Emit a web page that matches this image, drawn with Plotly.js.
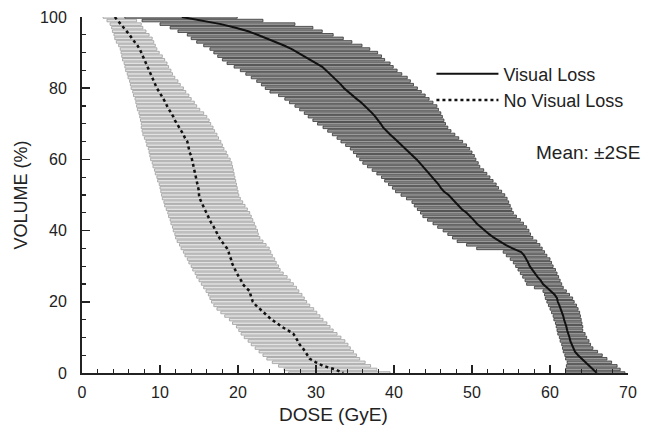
<!DOCTYPE html>
<html>
<head>
<meta charset="utf-8">
<script src="https://cdn.plot.ly/plotly-3.0.1.min.js"></script>
<style>html,body{margin:0;padding:0;background:#fff;}#chart{width:648px;height:435px;}</style>
</head>
<body>
<div id="chart"></div>
<script>
// Volume levels (%) from 100 down to 0
const volume = [];
for (let v = 100; v >= 0; v--) volume.push(v);

// Visual Loss: mean dose and mean ± 2SE (GyE)
const vlMean = [12.8,15.5,17.8,19.7,21.3,22.5,23.7,24.8,25.9,26.9,27.7,28.5,29.3,30.0,30.8,31.3,31.8,32.3,32.8,33.2,33.6,34.1,34.7,35.2,35.8,36.3,36.8,37.2,37.6,38.0,38.3,38.6,39.0,39.5,40.0,40.5,41.0,41.5,42.0,42.4,42.9,43.3,43.7,44.2,44.6,44.9,45.3,45.7,46.0,46.4,47.0,47.4,47.8,48.3,48.7,49.3,49.8,50.2,50.6,51.1,51.6,52.2,52.8,53.5,54.3,55.2,56.3,56.7,57.0,57.2,57.4,57.7,58.1,58.4,58.8,59.1,59.6,60.1,60.6,60.9,61.0,61.2,61.4,61.5,61.7,61.8,62.0,62.1,62.2,62.4,62.5,62.6,62.8,62.9,63.2,63.6,64.1,64.6,65.1,65.5,66.0];
const vlLow = [5.5,7.7,10.0,11.3,12.3,13.5,14.0,14.7,15.6,16.4,16.9,17.4,18.0,18.6,19.5,20.3,21.0,21.7,22.4,23.0,23.5,24.1,25.2,26.0,26.6,27.3,27.9,28.5,29.0,29.6,30.2,30.9,31.5,32.1,32.7,33.2,33.8,34.4,34.8,35.2,35.6,36.0,36.6,37.2,37.8,38.4,38.8,39.3,39.8,40.2,40.9,41.6,42.3,42.6,43.0,43.4,43.7,44.3,45.0,45.6,46.3,46.9,47.5,48.1,49.3,50.6,54.0,54.4,54.9,55.3,55.6,55.9,56.2,56.5,56.8,57.0,58.0,59.1,59.3,59.4,59.6,59.8,60.0,60.2,60.4,60.5,60.7,60.8,60.9,61.0,61.2,61.3,61.5,61.6,61.7,61.9,62.0,62.2,62.1,62.0,62.0];
const vlHigh = [19.9,23.2,27.3,29.6,30.8,32.2,33.5,34.6,35.9,36.9,37.9,38.4,38.8,39.5,39.9,40.4,41.0,41.7,42.1,42.5,43.0,43.5,44.0,44.5,45.0,45.5,45.7,46.0,46.2,46.4,46.6,46.9,47.3,47.8,48.3,48.8,49.3,49.7,50.0,50.3,50.5,50.8,51.0,51.5,51.9,52.3,52.7,53.1,53.4,53.8,54.2,54.5,54.7,54.9,55.1,55.3,55.7,56.2,56.6,57.0,57.3,57.5,57.8,58.3,58.7,59.0,59.3,59.6,60.0,60.2,60.4,60.7,60.9,61.1,61.3,61.5,61.7,62.1,62.5,62.9,63.1,63.4,63.6,63.8,63.9,64.0,64.1,64.2,64.2,64.5,64.7,65.0,65.2,65.5,66.1,66.7,67.3,67.9,68.6,69.0,69.6];

// No Visual Loss: mean dose and mean ± 2SE (GyE)
const nvlMean = [4.2,4.6,5.0,5.4,5.7,6.1,6.4,6.8,7.1,7.4,7.6,7.8,8.0,8.2,8.4,8.5,8.8,9.0,9.2,9.4,9.6,9.9,10.2,10.4,10.7,10.9,11.2,11.4,11.7,11.9,12.2,12.5,12.7,13.0,13.2,13.5,13.6,13.7,13.8,14.0,14.1,14.2,14.3,14.4,14.5,14.6,14.7,14.8,14.9,15.0,15.0,15.1,15.3,15.5,15.8,16.0,16.2,16.4,16.6,16.9,17.1,17.3,17.6,17.9,18.3,18.6,18.8,18.9,19.1,19.2,19.4,19.6,19.9,20.1,20.4,20.6,21.0,21.5,21.6,21.8,21.9,22.3,22.8,23.2,23.7,24.3,25.0,25.6,26.4,27.1,27.4,27.6,27.9,28.3,28.6,28.9,29.2,30.0,30.9,32.5,33.5];
const nvlLow = [2.7,3.2,3.6,3.8,3.9,4.1,4.2,4.4,4.7,4.9,5.0,5.1,5.2,5.4,5.5,5.6,5.8,5.9,6.1,6.2,6.3,6.5,6.6,6.8,6.9,7.0,7.1,7.3,7.4,7.5,7.6,7.6,7.7,7.8,8.0,8.2,8.3,8.5,8.6,8.7,8.8,9.0,9.1,9.3,9.4,9.6,9.7,9.9,10.0,10.1,10.2,10.3,10.5,10.6,10.8,11.0,11.1,11.3,11.4,11.6,11.7,11.9,12.0,12.2,12.5,12.7,13.0,13.2,13.5,13.7,14.0,14.2,14.5,14.7,15.0,15.3,15.6,15.9,16.2,16.4,16.6,16.9,17.3,17.8,18.3,18.9,19.3,19.8,20.1,20.4,20.8,21.3,21.7,22.2,22.7,23.2,23.7,24.4,25.2,25.9,26.5];
const nvlHigh = [5.5,7.0,7.6,7.8,8.2,8.6,9.0,9.2,9.4,9.6,9.9,10.3,10.6,10.9,11.1,11.4,11.6,11.9,12.3,12.6,13.0,13.3,13.7,14.0,14.4,14.7,15.1,15.6,16.0,16.3,16.5,16.8,17.0,17.3,17.5,17.8,18.0,18.2,18.5,18.7,19.0,19.2,19.3,19.4,19.5,19.6,19.7,19.8,19.9,20.0,20.1,20.3,20.6,20.9,21.2,21.5,21.7,21.9,22.1,22.3,22.5,22.6,22.8,23.2,23.6,24.0,24.2,24.4,24.7,24.9,25.2,25.4,25.8,26.3,26.7,27.1,27.5,27.8,28.2,28.5,28.8,29.2,29.7,30.1,30.5,30.9,31.4,31.8,32.2,32.7,33.2,33.7,34.1,34.4,34.8,35.2,35.6,36.3,37.0,37.8,39.5];

const xTickText = ['0','10','20','30','40','50','60','70'];
const yTickText = ['0','20','40','60','80','100'];
const seriesNames = ['Visual Loss', 'No Visual Loss'];

const FONT = 'Liberation Sans, Arial, sans-serif';
const span = (hi, lo) => hi.map((h, i) => h - lo[i]);

const traces = [
  {type:'bar', orientation:'h', y:volume, base:nvlLow, x:span(nvlHigh,nvlLow), width:0.72,
   marker:{color:'#e2e2e2', line:{color:'#9c9c9c', width:0.8}}, showlegend:false, hoverinfo:'skip', cliponaxis:false},
  {type:'bar', orientation:'h', y:volume, base:vlLow, x:span(vlHigh,vlLow), width:0.72,
   marker:{color:'#9a9a9a', line:{color:'#333', width:0.8}}, showlegend:false, hoverinfo:'skip', cliponaxis:false},
  {type:'scatter', mode:'lines', x:vlMean, y:volume, name:seriesNames[0],
   line:{color:'#111', width:2}, cliponaxis:false},
  {type:'scatter', mode:'lines', x:nvlMean, y:volume, name:seriesNames[1],
   line:{color:'#111', width:2.5, dash:'dot'}, cliponaxis:false},
  // empty trace that carries the minor-tick axes
  {type:'scatter', mode:'markers', x:[], y:[], xaxis:'x2', yaxis:'y2', showlegend:false, hoverinfo:'skip'}
];

const layout = {
  width:648, height:435,
  margin:{l:82, r:20, t:17, b:62},
  paper_bgcolor:'#fff', plot_bgcolor:'#fff',
  barmode:'overlay', bargap:0,
  font:{family:FONT, size:16, color:'#222'},
  showlegend:true,
  legend:{x:0.64, y:0.892, xanchor:'left', yanchor:'top', bgcolor:'rgba(0,0,0,0)',
          font:{family:FONT, size:18, color:'#222'}, itemwidth:62, tracegroupgap:0},
  xaxis:{range:[0,70], tickmode:'linear', tick0:0, dtick:10, ticktext:xTickText,
         showline:true, linecolor:'#222', linewidth:2, mirror:false,
         ticks:'inside', ticklen:8, tickwidth:1.5, tickcolor:'#222',
         showgrid:false, zeroline:false, ticklabelstandoff:4,
         tickfont:{family:FONT, size:16, color:'#222'}},
  yaxis:{range:[0,100], tickmode:'linear', tick0:0, dtick:20, ticktext:yTickText,
         showline:true, linecolor:'#222', linewidth:2,
         ticks:'inside', ticklen:8, tickwidth:1.5, tickcolor:'#222',
         showgrid:false, zeroline:false, ticklabelstandoff:10,
         tickfont:{family:FONT, size:16, color:'#222'},
         title:{text:'VOLUME (%)', font:{family:FONT, size:18, color:'#222'}, standoff:8}},
  xaxis2:{overlaying:'x', anchor:'y2', side:'bottom', range:[0,70], tickmode:'linear', tick0:0, dtick:2,
          ticks:'inside', ticklen:4, tickwidth:1.3, tickcolor:'#222', showticklabels:false,
          showline:false, showgrid:false, zeroline:false, fixedrange:true},
  yaxis2:{overlaying:'y', anchor:'x2', side:'left', range:[0,100], tickmode:'linear', tick0:0, dtick:5,
          ticks:'inside', ticklen:4, tickwidth:1.3, tickcolor:'#222', showticklabels:false,
          showline:false, showgrid:false, zeroline:false, fixedrange:true},
  annotations:[
    {xref:'paper', yref:'paper', x:1.025, y:0.62, xanchor:'right', yanchor:'middle',
     text:'Mean: \u00b12SE', showarrow:false, font:{family:FONT, size:19, color:'#222'}},
    {xref:'paper', yref:'paper', x:0.46, y:-0.116, xanchor:'center', yanchor:'middle',
     text:'DOSE (GyE)', showarrow:false, font:{family:FONT, size:19, color:'#222'}}
  ]
};

Plotly.newPlot('chart', traces, layout, {displayModeBar:false, staticPlot:true});
</script>
</body>
</html>
